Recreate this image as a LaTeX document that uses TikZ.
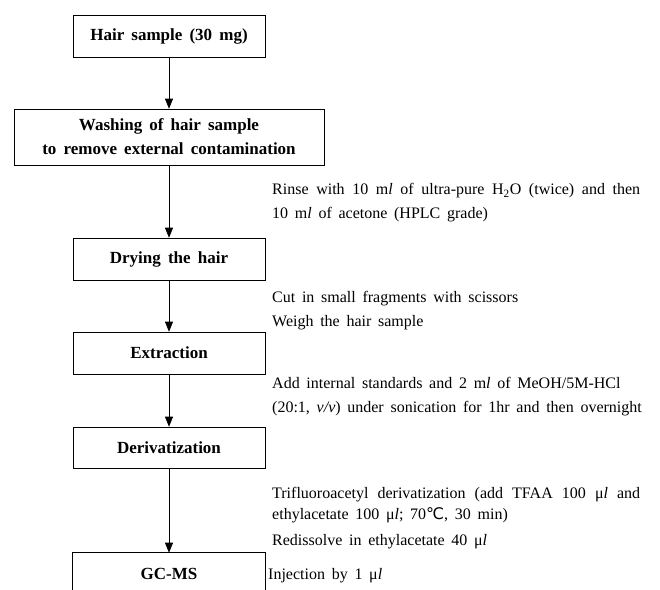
\documentclass[tikz,border=0pt]{standalone}
\usepackage{fontspec}
\setmainfont{Liberation Serif}
\newfontfamily\symfont{DejaVu Sans}
\usetikzlibrary{arrows.meta,positioning}
\newcommand{\ml}{m\textit{l}}
\newcommand{\ul}{μ\textit{l}}
\newcommand{\degc}{{\symfont ℃}}
\newcommand{\widesp}{\spaceskip=0.42em plus 0.4em minus 0.1em\relax}

\begin{document}
\begin{tikzpicture}[x=1pt,y=-1pt,
    stage/.style={draw, line width=0.6pt, minimum width=192pt, minimum height=42pt,
      align=center, font=\fontsize{17}{24}\selectfont\bfseries\widesp},
    note/.style={anchor=west, inner sep=0pt, align=justify,
      font=\fontsize{16}{24}\selectfont\widesp},
    flow/.style={-{Triangle[length=10pt,width=8pt]}, line width=0.6pt}]
  \useasboundingbox (0,0) rectangle (660,589);
  % stages
  \node[stage] (hair) at (169,36) {Hair sample (30 mg)};
  \node[stage, minimum width=310pt, minimum height=56pt] (wash) at (169,137)
    {Washing of hair sample\\to remove external contamination};
  \node[stage] (dry) at (169,259) {Drying the hair};
  \node[stage] (ext) at (169,353) {Extraction};
  \node[stage, minimum height=41pt] (deriv) at (169,447.5) {Derivatization};
  \node[stage, draw=none, minimum height=42pt] (gcms) at (169,574) {GC-MS};
  \draw[line width=0.6pt] (gcms.north west) ++(0,40) -- (gcms.north west)
    -- (gcms.north east) -- ++(0,40);
  % notes
  \node[note, text width=368pt] (rinse) at (272,203)
    {Rinse with 10 \ml{} of ultra-pure H\textsubscript{2}O (twice) and then\linebreak
     10 \ml{} of acetone (HPLC grade)};
  \node[note, text width=380pt] (cut) at (272,311)
    {Cut in small fragments with scissors\\Weigh the hair sample};
  \node[note, text width=380pt] (add) at (272,397)
    {\parfillskip=0pt Add internal standards and 2 \ml{} of MeOH/5M-HCl\\
     (20:1, \textit{v/v}) under sonication for 1hr and then overnight};
  \node[note, text width=368pt, font=\fontsize{16}{21}\selectfont\widesp] (tfa) at (272,505.5)
    {Trifluoroacetyl derivatization (add TFAA 100 \ul{} and\linebreak
     ethylacetate 100 \ul; 70\degc, 30 min)};
  \node[note] (redis) at (272,542) {Redissolve in ethylacetate 40 \ul};
  \node[note] (inj) at (268,576) {Injection by 1 \ul};
  % arrows
  \path[flow] (hair) edge (wash);
  \path[flow] (wash) edge (dry);
  \path[flow] (dry) edge (ext);
  \path[flow] (ext) edge (deriv);
  \path[flow] (deriv) edge (gcms);
\end{tikzpicture}
\end{document}
